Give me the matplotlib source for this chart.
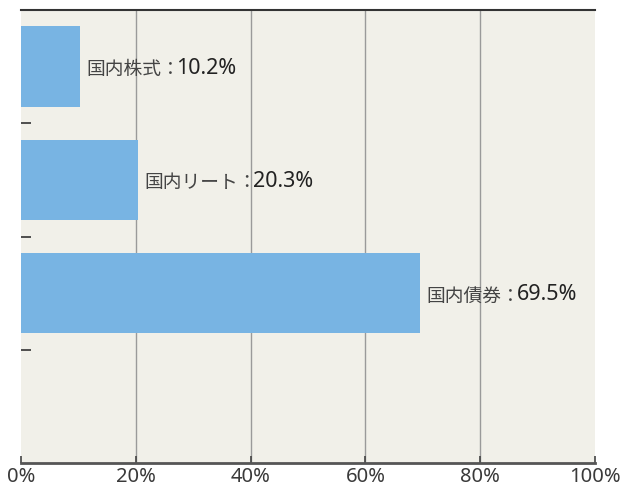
import numpy as np
import matplotlib
matplotlib.use('Agg')
import matplotlib.pyplot as plt

plt.rcParams['font.family'] = ['Noto Sans CJK JP', 'DejaVu Sans']

categories = ['国内株式', '国内リート', '国内債券']
values = [10.2, 20.3, 69.5]
xticks = [0, 20, 40, 60, 80, 100]
xticklabels = ['0%', '20%', '40%', '60%', '80%', '100%']

bar_color = '#78b4e3'
bg_color = '#f1f0e9'
num_font = 'Noto Sans'

fig = plt.figure(figsize=(6.22, 4.95), dpi=100)
ax = fig.add_axes([21/622, 32/495, 574/622, 453/495])
ax.set_facecolor(bg_color)

pos = np.arange(len(categories))
ax.barh(pos, values, height=0.71, color=bar_color, zorder=2)

ax.set_xlim(0, 100)
ax.set_ylim(3.5, -0.5)

ax.set_xticks(xticks)
ax.set_xticklabels(xticklabels, fontsize=14.5, color='#3a3a3a', family=num_font)
ax.set_yticks([0.5, 1.5, 2.5])
ax.set_yticklabels([])
ax.tick_params(axis='x', direction='in', length=5, width=1.2, color='#444444', pad=3)
ax.tick_params(axis='y', direction='in', length=7, width=1.2, color='#333333')

for x in xticks[1:-1]:
    ax.axvline(x, color='#9a9a9a', lw=1, zorder=1)

for s in ['left', 'right']:
    ax.spines[s].set_visible(False)
ax.spines['top'].set_color('#333333')
ax.spines['top'].set_linewidth(1.5)
ax.spines['bottom'].set_color('#555555')
ax.spines['bottom'].set_linewidth(2)

for i, (c, v) in enumerate(zip(categories, values)):
    t1 = ax.annotate(c + '：', xy=(v, i), xytext=(5, -2), textcoords='offset points',
                     ha='left', va='center', fontsize=13.5, color='#444444', zorder=3)
    ax.annotate('%.1f%%' % v, xy=(1, 0.5), xycoords=t1, xytext=(-3, 1),
                textcoords='offset points', ha='left', va='center',
                fontsize=15.5, color='#222222', family=num_font, zorder=3)

plt.savefig('out.png', dpi=100)
